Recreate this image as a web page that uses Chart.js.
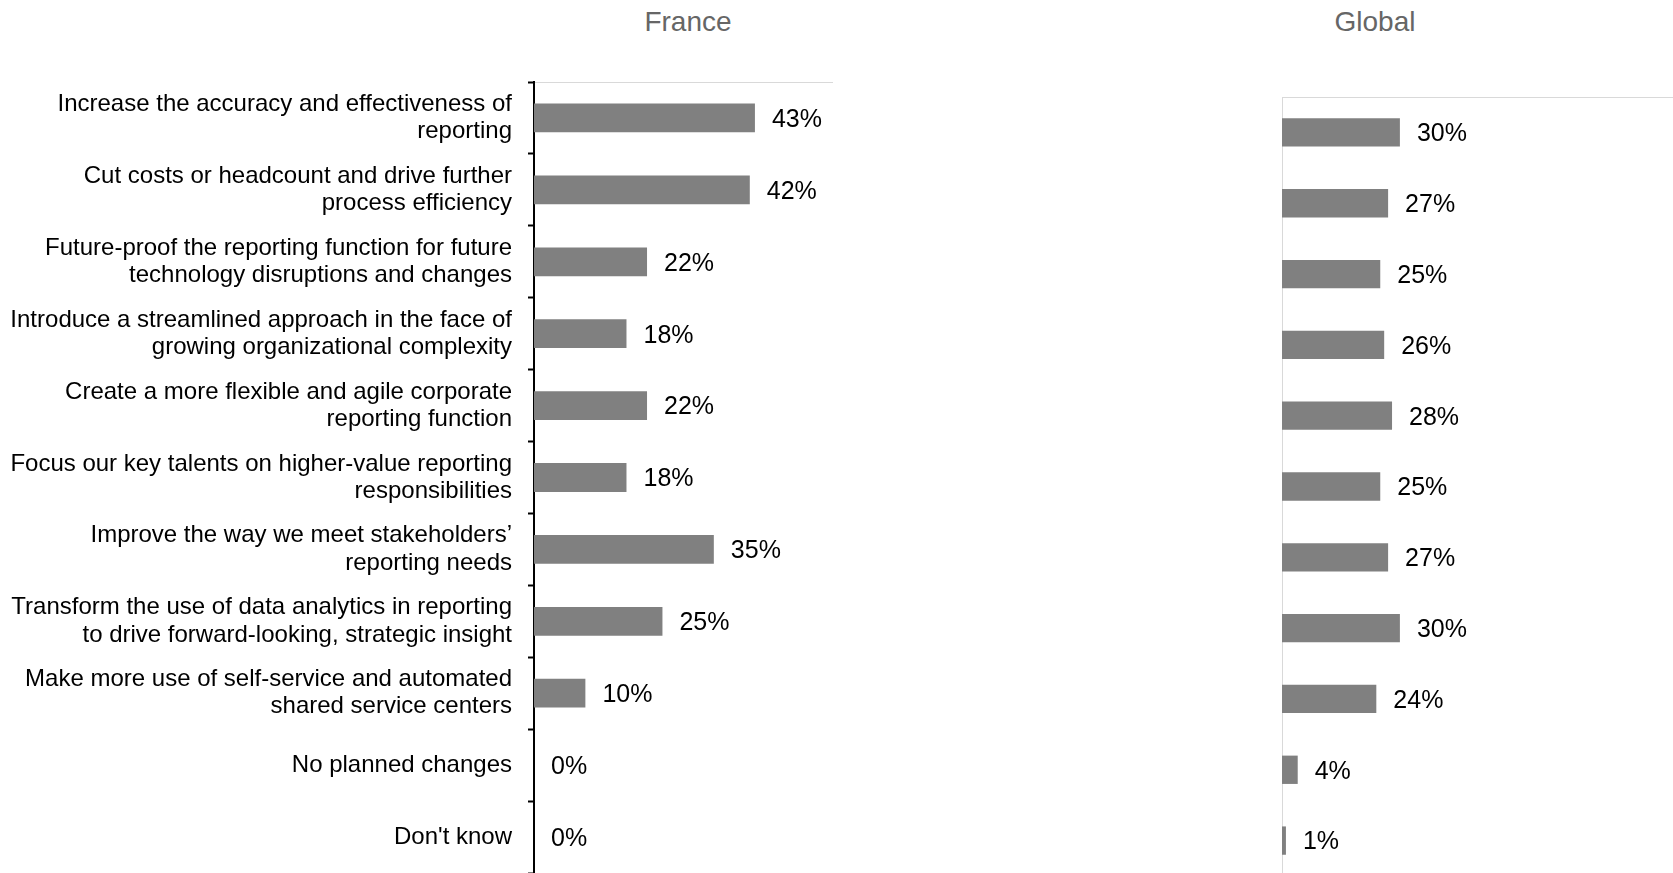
<!DOCTYPE html>
<html>
<head>
<meta charset="utf-8">
<script src="https://cdn.jsdelivr.net/npm/chart.js@4.4.1/dist/chart.umd.min.js"></script>
<style>
  body { margin: 0; background: #fff; font-family: "Liberation Sans", Arial, sans-serif; }
  #wrap { position: relative; width: 1673px; height: 873px; overflow: hidden; }
  .title { position: absolute; top: 6px; font-size: 28px; color: #666; transform: translateX(-50%); }
  canvas { position: absolute; top: 0; }
</style>
</head>
<body>
<div id="wrap">
  <div class="title" style="left:688px">France</div>
  <div class="title" style="left:1375px">Global</div>
  <canvas id="franceChart" style="left:0;width:840px;height:873px"></canvas>
  <canvas id="globalChart" style="left:1200px;width:475px;height:876px"></canvas>
</div>
<script>
// Motifs de transformation du reporting
const categories = [
  ["Increase the accuracy and effectiveness of", "reporting"],
  ["Cut costs or headcount and drive further", "process efficiency"],
  ["Future-proof the reporting function for future", "technology disruptions and changes"],
  ["Introduce a streamlined approach in the face of", "growing organizational complexity"],
  ["Create a more flexible and agile corporate", "reporting function"],
  ["Focus our key talents on higher-value reporting", "responsibilities"],
  ["Improve the way we meet stakeholders\u2019", "reporting needs"],
  ["Transform the use of data analytics in reporting", "to drive forward-looking, strategic insight"],
  ["Make more use of self-service and automated", "shared service centers"],
  "No planned changes",
  "Don't know"
];

const franceValues = [43, 42, 22, 18, 22, 18, 35, 25, 10, 0, 0];
const globalValues = [30, 27, 25, 26, 28, 25, 27, 30, 24, 4, 1];

const barColor = '#808080';
const fontFamily = '"Liberation Sans", Arial, sans-serif';

// Étiquettes de valeur à droite de chaque barre
const valueLabels = {
  id: 'valueLabels',
  afterDatasetsDraw(chart) {
    const ctx = chart.ctx;
    const meta = chart.getDatasetMeta(0);
    const data = chart.data.datasets[0].data;
    ctx.save();
    ctx.font = '25px ' + fontFamily;
    ctx.fillStyle = '#000';
    ctx.textAlign = 'left';
    ctx.textBaseline = 'middle';
    meta.data.forEach((bar, i) => {
      ctx.fillText(data[i] + '%', bar.x + 17, bar.y + 2);
    });
    ctx.restore();
  }
};

function renderChart(id, values, opts) {
  const ctx = document.getElementById(id);
  new Chart(ctx.getContext('2d'), {
    type: 'bar',
    data: {
      labels: categories,
      datasets: [{
        data: values,
        backgroundColor: barColor,
        borderWidth: 0,
        categoryPercentage: 1,
        barPercentage: 0.4
      }]
    },
    options: {
      indexAxis: 'y',
      responsive: false,
      animation: false,
      layout: { padding: opts.padding },
      plugins: {
        legend: { display: false },
        tooltip: { enabled: false }
      },
      scales: {
        x: {
          position: 'top',
          min: 0,
          max: opts.max,
          afterFit: (scale) => { scale.height = 0; },
          ticks: { display: false },
          grid: { display: false },
          border: { display: true, color: '#d9d9d9', width: 1 }
        },
        y: {
          // largeur fixe de l'axe, sans marge verticale pour les libellés
          afterFit: (scale) => {
            scale.width = opts.axisWidth;
            scale.paddingTop = 0;
            scale.paddingBottom = 0;
          },
          ticks: {
            display: opts.showLabels,
            color: '#000',
            padding: 16,
            font: { size: 24, family: fontFamily, lineHeight: 1.13 }
          },
          grid: {
            display: opts.showLabels,
            offset: true,
            drawOnChartArea: false,
            tickLength: 6,
            tickWidth: 2,
            color: '#000'
          },
          border: { display: true, color: opts.axisColor, width: opts.showLabels ? 2 : 1 }
        }
      }
    },
    plugins: [valueLabels]
  });
}

const fc = document.getElementById('franceChart');
fc.width = 840; fc.height = 873;
const gc = document.getElementById('globalChart');
gc.width = 475; gc.height = 876;

renderChart('franceChart', franceValues, {
  max: 58, axisWidth: 534, showLabels: true, axisColor: '#000',
  padding: { top: 82, right: 8, bottom: 0, left: 0 }
});
renderChart('globalChart', globalValues, {
  max: 100, axisWidth: 82, showLabels: false, axisColor: '#d9d9d9',
  padding: { top: 97, right: 0, bottom: 0, left: 0 }
});
</script>
</body>
</html>
